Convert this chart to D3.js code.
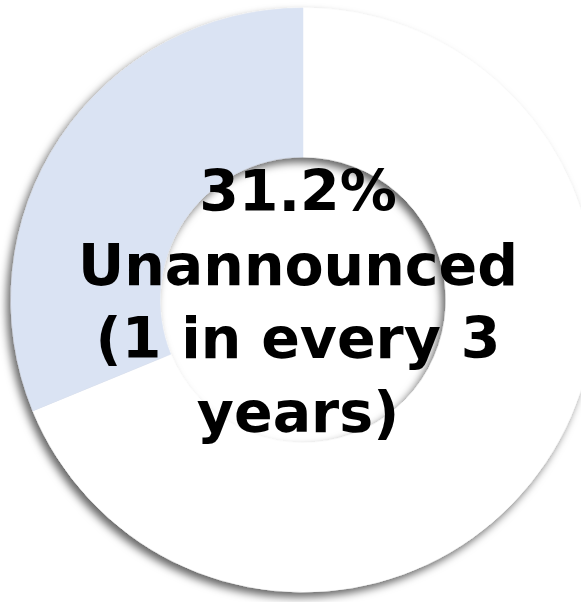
<!DOCTYPE html>
<html>
<head>
<meta charset="utf-8">
<script src="https://cdn.jsdelivr.net/npm/d3@7"></script>
<style>
  body { margin: 0; background: #fff; }
  svg { display: block; }
</style>
</head>
<body>
<div id="chart"></div>
<script>
var width = 581,
    height = 602;

// pie segments: remainder first, so the highlighted slice ends at 12 o'clock
var labels = ["Announced", "Unannounced"];
var values = [68.8, 31.2];
var colors = ["#ffffff", "#dae3f3"];

var centerLines = ["31.2%", "Unannounced", "(1 in every 3", "years)"];

var cx = 303, cy = 300,
    outerR = 292, innerR = 143;

var svg = d3.select("#chart").append("svg")
    .attr("width", width)
    .attr("height", height);

var defs = svg.append("defs");
var shadow = defs.append("filter")
    .attr("id", "shadow")
    .attr("x", "-20%").attr("y", "-20%")
    .attr("width", "140%").attr("height", "140%");
shadow.append("feDropShadow")
    .attr("dx", -4)
    .attr("dy", 5)
    .attr("stdDeviation", 4)
    .attr("flood-color", "#000")
    .attr("flood-opacity", 0.6);

var pie = d3.pie()
    .sort(null)
    .value(function(d) { return d; });

var arc = d3.arc()
    .innerRadius(innerR)
    .outerRadius(outerR);

var g = svg.append("g")
    .attr("transform", "translate(" + cx + "," + cy + ")")
    .attr("filter", "url(#shadow)");

g.selectAll("path")
    .data(pie(values))
  .enter().append("path")
    .attr("d", arc)
    .attr("fill", function(d, i) { return colors[i]; })
    .attr("stroke", function(d, i) { return colors[i]; })
    .attr("stroke-width", 0.5);

// centre label (sits a little left of the ring centre)
var lineH = 73.5,
    firstBase = 211;

svg.append("g")
    .selectAll("text")
    .data(centerLines)
  .enter().append("text")
    .attr("x", cx - 5)
    .attr("y", function(d, i) { return firstBase + i * lineH; })
    .attr("text-anchor", "middle")
    .attr("font-family", "'Century Gothic', 'DejaVu Sans', sans-serif")
    .attr("font-weight", "bold")
    .attr("font-size", 57)
    .attr("fill", "#000")
    .text(function(d) { return d; });
</script>
</body>
</html>
